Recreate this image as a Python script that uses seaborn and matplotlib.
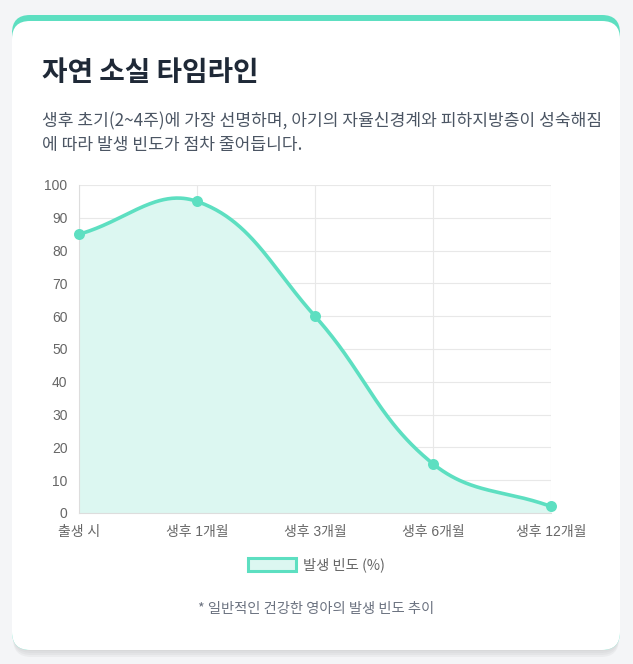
import numpy as np
import pandas as pd
import matplotlib
matplotlib.use("Agg")
import matplotlib.pyplot as plt
from matplotlib.patches import FancyBboxPatch, Patch
import seaborn as sns

# data
labels = ["출생 시", "생후 1개월", "생후 3개월", "생후 6개월", "생후 12개월"]
values = [85, 95, 60, 15, 2]
yticks = list(range(0, 101, 10))
series_name = "발생 빈도 (%)"
title = "자연 소실 타임라인"
subtitle = ["생후 초기(2~4주)에 가장 선명하며, 아기의 자율신경계와 피하지방층이 성숙해짐",
            "에 따라 발생 빈도가 점차 줄어듭니다."]
footnote = "* 일반적인 건강한 영아의 발생 빈도 추이"

teal = "#5ddfc1"
fill = "#dcf7f1"
grid_c = "#e8e8e8"
tick_c = "#666666"

sns.set_theme(style="white")
plt.rcParams['font.family'] = ['Noto Sans CJK KR', 'DejaVu Sans']

W, H = 633, 664
fig = plt.figure(figsize=(W / 100, H / 100), dpi=100)
fig.patch.set_facecolor("#f4f5f7")

# card background in pixel coords
bg = fig.add_axes([0, 0, 1, 1], zorder=0)
bg.set_xlim(0, W); bg.set_ylim(H, 0); bg.axis("off")
for k, a in enumerate([0.025, 0.025, 0.03, 0.035]):
    off = 1 + k * 2
    bg.add_patch(FancyBboxPatch((12 + 1, 15 + off), 608 - 2, 635, boxstyle="round,pad=0,rounding_size=18",
                                fc="#000000", ec="none", alpha=a))
bg.add_patch(FancyBboxPatch((12, 15), 608, 635, boxstyle="round,pad=0,rounding_size=18", fc=teal, ec="none"))
bg.add_patch(FancyBboxPatch((12, 21), 608, 629, boxstyle="round,pad=0,rounding_size=18", fc="white", ec="none"))

fig.text(42 / W, 1 - 73 / H, title, fontsize=20, fontweight="bold", color="#1f2937", va="center")
for i, line in enumerate(subtitle):
    fig.text(42 / W, 1 - (121 + i * 24) / H, line, fontsize=12.3, color="#4b5563", va="center")

# chart
ax = fig.add_axes([79 / W, 1 - 513 / H, 472 / W, 328 / H], zorder=2)
ax.set_facecolor("none")
xpos = np.arange(len(labels))
ax.set_xlim(0, len(labels) - 1)
ax.set_ylim(0, 100)

# chart.js style spline (tension 0.4) computed in pixel space
pts = ax.transData.transform(np.column_stack([xpos, values]))
t = 0.4
cprev, cnext = [], []
for i in range(len(pts)):
    prv = pts[i - 1] if i > 0 else pts[i]
    cur = pts[i]
    nxt = pts[i + 1] if i < len(pts) - 1 else pts[i]
    d01 = np.hypot(*(cur - prv)); d12 = np.hypot(*(nxt - cur))
    tot = d01 + d12
    s01 = d01 / tot if tot else 0
    s12 = d12 / tot if tot else 0
    cprev.append(cur - t * s01 * (nxt - prv))
    cnext.append(cur + t * s12 * (nxt - prv))
box = ax.transAxes.transform([[0, 0], [1, 1]])
curve = []
u = np.linspace(0, 1, 80)[:, None]
for i in range(len(pts) - 1):
    p0, p3 = pts[i], pts[i + 1]
    p1 = np.clip(cnext[i], box[0], box[1])
    p2 = np.clip(cprev[i + 1], box[0], box[1])
    seg = (1 - u) ** 3 * p0 + 3 * (1 - u) ** 2 * u * p1 + 3 * (1 - u) * u ** 2 * p2 + u ** 3 * p3
    curve.append(seg if i == 0 else seg[1:])
curve = ax.transData.inverted().transform(np.vstack(curve))
df = pd.DataFrame({"x": curve[:, 0], "y": curve[:, 1]})

ax.fill_between(df.x, df.y, 0, color=fill, lw=0, zorder=1)
sns.lineplot(data=df, x="x", y="y", sort=False, estimator=None, color=teal, lw=2.6, ax=ax, zorder=3)
sns.scatterplot(x=xpos, y=values, s=45, color=teal, edgecolor=teal, linewidth=1.2, ax=ax, zorder=4, clip_on=False)

ax.set_xticks(xpos)
ax.set_xticklabels(labels)
ax.set_yticks(yticks)
ax.grid(True, color=grid_c, lw=0.8)
ax.set_axisbelow(True)
for s in ["top", "right"]:
    ax.spines[s].set_visible(False)
for s in ["left", "bottom"]:
    ax.spines[s].set_color("#dddddd")
    ax.spines[s].set_linewidth(0.8)
ax.tick_params(length=5.8, width=0.8, color=grid_c, pad=2.5, labelsize=10, labelcolor=tick_c)
for lb in ax.get_xticklabels() + ax.get_yticklabels():
    lb.set_fontfamily(['Liberation Sans', 'Noto Sans CJK KR'])
ax.set_xlabel(""); ax.set_ylabel("")

handle = Patch(facecolor=fill, edgecolor=teal, linewidth=2.2, label=series_name)
fig.legend(handles=[handle], loc="center", bbox_to_anchor=(0.5, 1 - 565 / H), frameon=False,
           fontsize=10.3, handlelength=3.3, handleheight=1.0, handletextpad=0.5, labelcolor=tick_c)

fig.text(0.5, 1 - 609 / H, footnote, fontsize=10.3, color="#6b7280", ha="center", va="center")

fig.savefig("out.png", dpi=100, facecolor=fig.get_facecolor())
